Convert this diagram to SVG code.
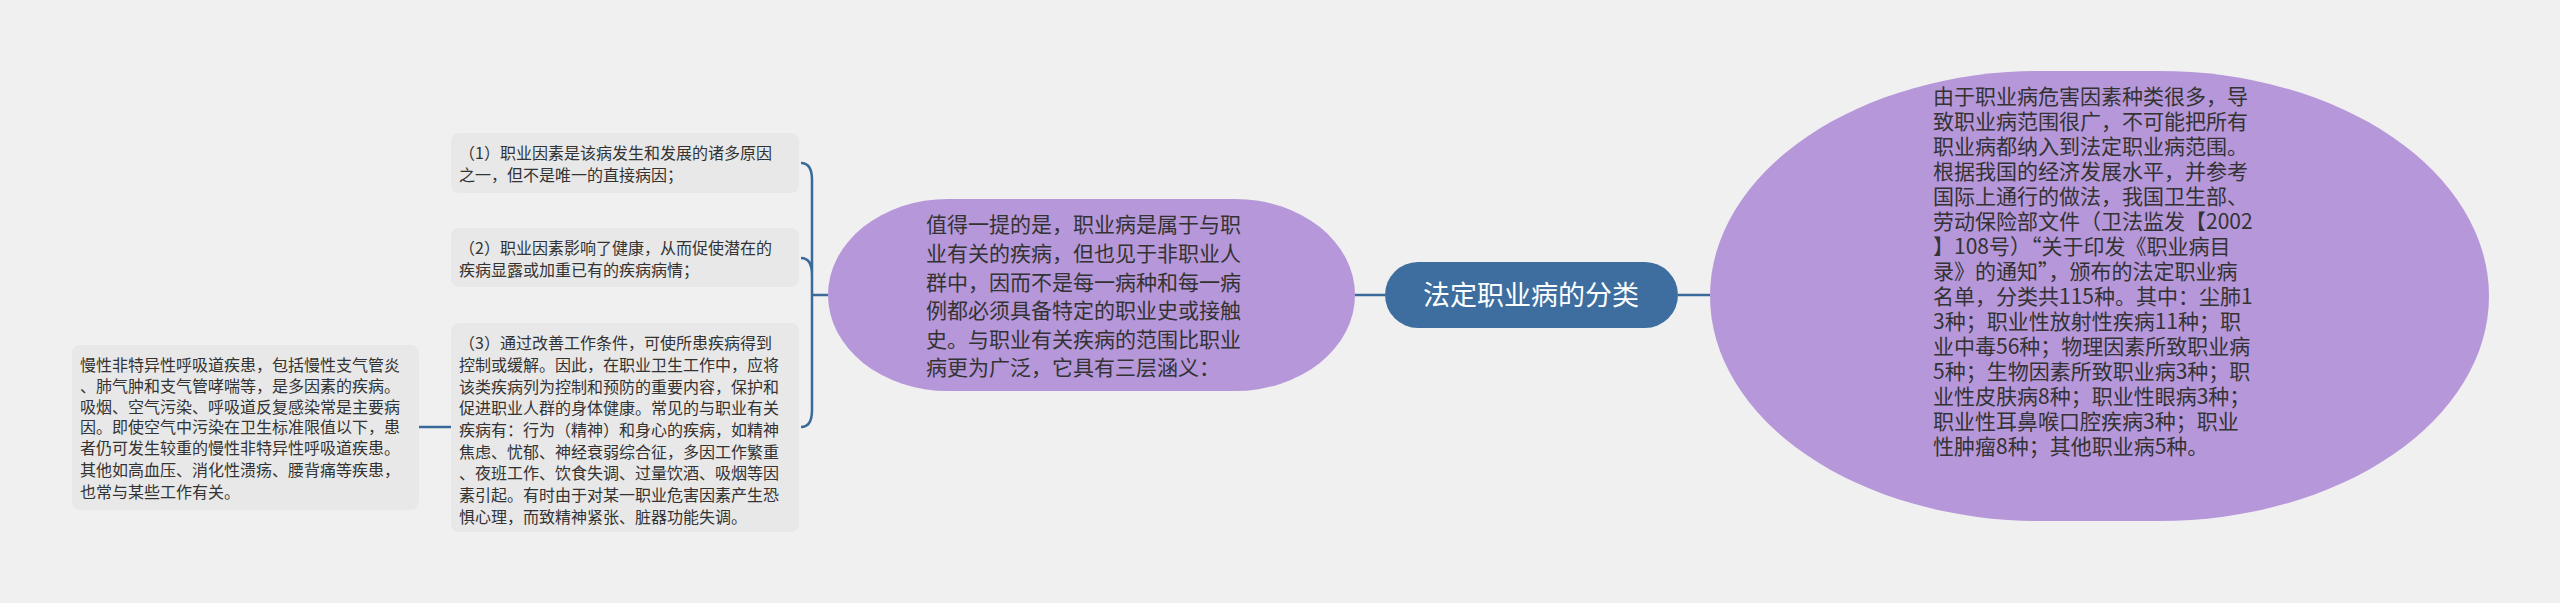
<svg xmlns="http://www.w3.org/2000/svg" width="2560" height="603" viewBox="0 0 2560 603">
<style>
text{font-family:"Noto Sans CJK SC","Liberation Sans",sans-serif;fill:#333}
.box{fill:#e8e8e8}
.pur{fill:#b697d9}
.t16{font-size:16px}
.t21{font-size:21px}
.con{fill:none;stroke:#3a6a9a;stroke-width:2.5}
</style>
<rect width="2560" height="603" fill="#f0f0f0"/>
<g id="connectors">
<path class="con" d="M1355 295H1385M1678 295H1710"/>
<path class="con" d="M828 295H812M801 163Q812 163 812 180V410Q812 427 801 427M801 258Q812 258 812 275"/>
<path class="con" d="M451 427H419"/>
</g>
<g id="center">
<rect x="1385" y="262" width="293" height="66" rx="33" fill="#3d6e9f"/>
<text x="1531" y="305" text-anchor="middle" style="fill:#fff;font-size:27px">法定职业病的分类</text>
</g>
<g id="right">
<rect x="1710" y="71" width="779" height="450" rx="330" ry="225" class="pur"/>
<text class="t21" x="1933">
<tspan x="1933" y="104">由于职业病危害因素种类很多，导</tspan>
<tspan x="1933" y="129">致职业病范围很广，不可能把所有</tspan>
<tspan x="1933" y="154">职业病都纳入到法定职业病范围。</tspan>
<tspan x="1933" y="179">根据我国的经济发展水平，并参考</tspan>
<tspan x="1933" y="204">国际上通行的做法，我国卫生部、</tspan>
<tspan x="1933" y="229">劳动保险部文件（卫法监发【2002</tspan>
<tspan x="1933" y="254">】108号）“关于印发《职业病目</tspan>
<tspan x="1933" y="279">录》的通知”，颁布的法定职业病</tspan>
<tspan x="1933" y="304">名单，分类共115种。其中：尘肺1</tspan>
<tspan x="1933" y="329">3种；职业性放射性疾病11种；职</tspan>
<tspan x="1933" y="354">业中毒56种；物理因素所致职业病</tspan>
<tspan x="1933" y="379">5种；生物因素所致职业病3种；职</tspan>
<tspan x="1933" y="404">业性皮肤病8种；职业性眼病3种；</tspan>
<tspan x="1933" y="429">职业性耳鼻喉口腔疾病3种；职业</tspan>
<tspan x="1933" y="454">性肿瘤8种；其他职业病5种。</tspan>
</text>
</g>
<g id="middle">
<rect x="828" y="199" width="527" height="192" rx="120" ry="96" class="pur"/>
<text class="t21">
<tspan x="926" y="232">值得一提的是，职业病是属于与职</tspan>
<tspan x="926" y="261">业有关的疾病，但也见于非职业人</tspan>
<tspan x="926" y="290">群中，因而不是每一病种和每一病</tspan>
<tspan x="926" y="318">例都必须具备特定的职业史或接触</tspan>
<tspan x="926" y="347">史。与职业有关疾病的范围比职业</tspan>
<tspan x="926" y="375">病更为广泛，它具有三层涵义：</tspan>
</text>
</g>
<g id="item1">
<rect class="box" x="451" y="133" width="348" height="60" rx="8"/>
<text class="t16"><tspan x="459" y="159">（1）职业因素是该病发生和发展的诸多原因</tspan><tspan x="459" y="181">之一，但不是唯一的直接病因；</tspan></text>
</g>
<g id="item2">
<rect class="box" x="451" y="228" width="348" height="59" rx="8"/>
<text class="t16"><tspan x="459" y="254">（2）职业因素影响了健康，从而促使潜在的</tspan><tspan x="459" y="276">疾病显露或加重已有的疾病病情；</tspan></text>
</g>
<g id="item3">
<rect class="box" x="451" y="323" width="348" height="209" rx="8"/>
<text class="t16">
<tspan x="459" y="349">（3）通过改善工作条件，可使所患疾病得到</tspan>
<tspan x="459" y="371">控制或缓解。因此，在职业卫生工作中，应将</tspan>
<tspan x="459" y="393">该类疾病列为控制和预防的重要内容，保护和</tspan>
<tspan x="459" y="414">促进职业人群的身体健康。常见的与职业有关</tspan>
<tspan x="459" y="436">疾病有：行为（精神）和身心的疾病，如精神</tspan>
<tspan x="459" y="458">焦虑、忧郁、神经衰弱综合征，多因工作繁重</tspan>
<tspan x="459" y="479">、夜班工作、饮食失调、过量饮酒、吸烟等因</tspan>
<tspan x="459" y="501">素引起。有时由于对某一职业危害因素产生恐</tspan>
<tspan x="459" y="523">惧心理，而致精神紧张、脏器功能失调。</tspan>
</text>
</g>
<g id="item4">
<rect class="box" x="72" y="345" width="347" height="165" rx="8"/>
<text class="t16">
<tspan x="80" y="371">慢性非特异性呼吸道疾患，包括慢性支气管炎</tspan>
<tspan x="80" y="392">、肺气肿和支气管哮喘等，是多因素的疾病。</tspan>
<tspan x="80" y="413">吸烟、空气污染、呼吸道反复感染常是主要病</tspan>
<tspan x="80" y="433">因。即使空气中污染在卫生标准限值以下，患</tspan>
<tspan x="80" y="454">者仍可发生较重的慢性非特异性呼吸道疾患。</tspan>
<tspan x="80" y="476">其他如高血压、消化性溃疡、腰背痛等疾患，</tspan>
<tspan x="80" y="498">也常与某些工作有关。</tspan>
</text>
</g>
</svg>
